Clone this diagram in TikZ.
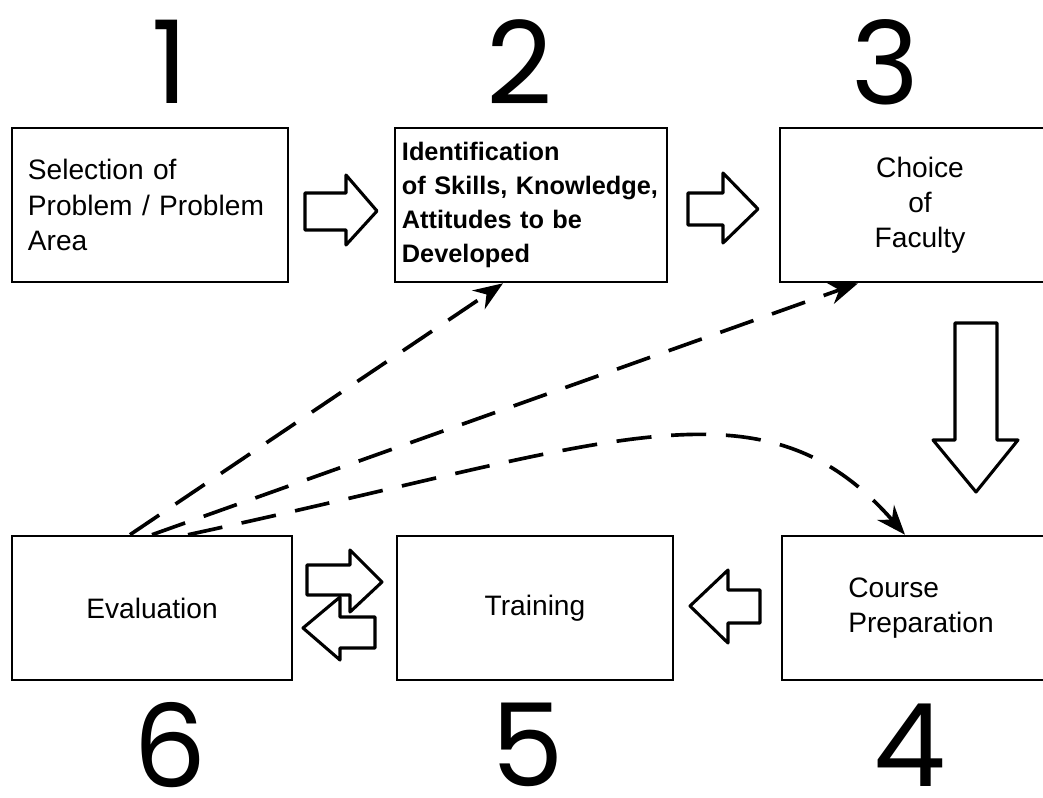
\documentclass[tikz,border=0pt]{standalone}
\usepackage{fontspec}
\setmainfont{Liberation Sans}
\newfontfamily\cifre{Poppins}
\usetikzlibrary{arrows.meta, calc}

\begin{document}
\begin{tikzpicture}[x = 0.025cm, y = -0.025cm,
    casella/.style = {draw, line width = 1.8pt, inner sep = 0pt, minimum width = 6.9cm, font = \fontsize{20}{25}\selectfont},
    alta/.style = {minimum height = 3.85cm},
    bassa/.style = {minimum height = 3.6cm},
    numero/.style = {inner sep = 0pt, font = \cifre\fontsize{82}{82}\selectfont},
    blocco/.style = {line width = 2.2pt, line join = round, fill = white},
    tratteggio/.style = {line width = 2.6pt, dash pattern = on 25pt off 14pt, -{Stealth[length = 21pt, width = 16pt]}}]
    % Cornice
    \useasboundingbox (0,0) rectangle (1043,797);
    \clip (0,0) rectangle (1043,797);
    % Caselle
    \node[casella, alta, align = left, text width = 6.1cm] (selezione) at (150,205) {Selection of\\Problem / Problem\\Area};
    \node[casella, alta, align = left, text width = 6.45cm, minimum width = 6.8cm, font = \bfseries\fontsize{18}{24}\selectfont] (identificazione) at (531,205) {Identification\\of Skills, Knowledge,\\Attitudes to be\\Developed};
    \node[casella, alta, align = center, minimum width = 7cm] (facolta) at (920,205) {Choice\\of\\Faculty};
    \node[casella, bassa, align = left, minimum width = 6.95cm] (preparazione) at (921,608) {Course\\Preparation};
    \node[casella, bassa] (formazione) at (535,608) {Training};
    \node[casella, bassa, minimum width = 7cm] (valutazione) at (152,608) {Evaluation};
    % Numeri
    \node[numero] (n1) at (170,62) {1};
    \node[numero] (n2) at (520,62) {2};
    \node[numero] (n3) at (885,62) {3};
    \node[numero] (n4) at (910,745) {4};
    \node[numero] (n5) at (528,745) {5};
    \node[numero] (n6) at (170,745) {6};
    % Frecce piene
    \draw[blocco] (305,193) -- (346,193) -- (346,175) -- (377,211) -- (346,245) -- (346,230) -- (305,230) -- cycle;
    \draw[blocco] (688,193) -- (723,193) -- (723,173) -- (758,209) -- (723,243) -- (723,225) -- (688,225) -- cycle;
    \draw[blocco] (955,323) -- (997,323) -- (997,440) -- (1018,440) -- (976,492) -- (933,440) -- (955,440) -- cycle;
    \draw[blocco] (760,590) -- (728,590) -- (728,570) -- (690,606) -- (728,643) -- (728,623) -- (760,623) -- cycle;
    \draw[blocco] (375,617) -- (340,617) -- (340,597) -- (303,628) -- (340,660) -- (340,648) -- (375,648) -- cycle;
    \draw[blocco] (307,565) -- (350,565) -- (350,550) -- (382,582) -- (350,612) -- (350,595) -- (307,595) -- cycle;
    % Frecce tratteggiate
    \draw[tratteggio] ($(valutazione.north)+(-22,0)$) -- ($(identificazione.south)+(-28,0)$);
    \draw[tratteggio] (valutazione.north) -- ($(facolta.south)+(-62,0)$);
    \draw[tratteggio] ($(valutazione.north)+(36,0)$) .. controls (609,444) and (761,370) .. ($(preparazione.north)+(-16,0)$);
\end{tikzpicture}
\end{document}
